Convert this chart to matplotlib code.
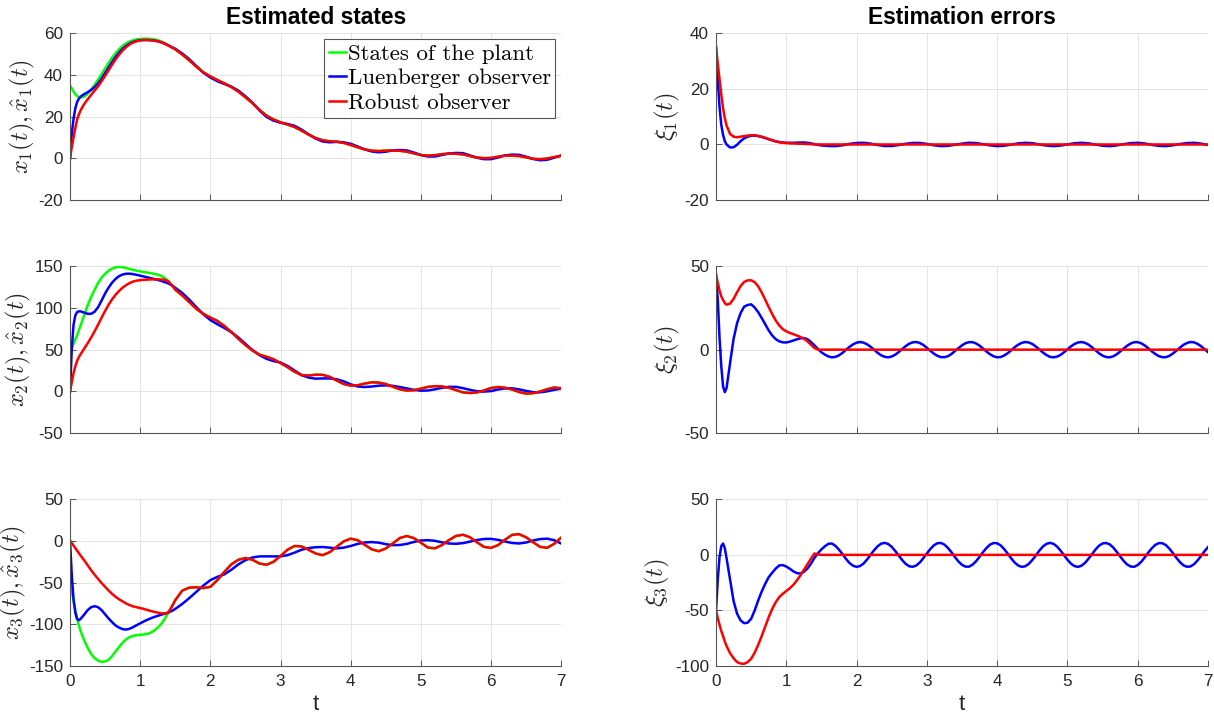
import numpy as np
import matplotlib
matplotlib.use("Agg")
import matplotlib.pyplot as plt

plt.rcParams['font.family'] = ['Liberation Sans', 'DejaVu Sans']
plt.rcParams['mathtext.fontset'] = 'cm'
plt.rcParams['axes.unicode_minus'] = False

# time samples (dense during the transient, coarser afterwards)
t_early = [0, 0.025, 0.05, 0.075, 0.1, 0.125, 0.15, 0.2, 0.25, 0.3, 0.35, 0.4,
           0.45, 0.5, 0.55, 0.6, 0.65, 0.7, 0.75, 0.8, 0.85, 0.9, 0.95, 1.0,
           1.05, 1.1, 1.15, 1.2, 1.25, 1.3, 1.35, 1.4, 1.45, 1.5]
t_late = [1.6, 1.7, 1.8, 1.9, 2.0, 2.1, 2.2, 2.3, 2.4, 2.5, 2.6, 2.7, 2.8, 2.9,
          3.0, 3.1, 3.2, 3.3, 3.4, 3.5, 3.6, 3.7, 3.8, 3.9, 4.0, 4.1, 4.2, 4.3,
          4.4, 4.5, 4.6, 4.7, 4.8, 4.9, 5.0, 5.1, 5.2, 5.3, 5.4, 5.5, 5.6, 5.7,
          5.8, 5.9, 6.0, 6.1, 6.2, 6.3, 6.4, 6.5, 6.6, 6.7, 6.8, 6.9, 7.0]
# finer samples for the oscillating Luenberger errors
t_late_fine = [1.55, 1.6, 1.65, 1.7, 1.75, 1.8, 1.85, 1.9, 1.95, 2.0,
               2.05, 2.1, 2.15, 2.2, 2.25, 2.3, 2.35, 2.4, 2.45, 2.5,
               2.55, 2.6, 2.65, 2.7, 2.75, 2.8, 2.85, 2.9, 2.95, 3.0,
               3.05, 3.1, 3.15, 3.2, 3.25, 3.3, 3.35, 3.4, 3.45, 3.5,
               3.55, 3.6, 3.65, 3.7, 3.75, 3.8, 3.85, 3.9, 3.95, 4.0,
               4.05, 4.1, 4.15, 4.2, 4.25, 4.3, 4.35, 4.4, 4.45, 4.5,
               4.55, 4.6, 4.65, 4.7, 4.75, 4.8, 4.85, 4.9, 4.95, 5.0,
               5.05, 5.1, 5.15, 5.2, 5.25, 5.3, 5.35, 5.4, 5.45, 5.5,
               5.55, 5.6, 5.65, 5.7, 5.75, 5.8, 5.85, 5.9, 5.95, 6.0,
               6.05, 6.1, 6.15, 6.2, 6.25, 6.3, 6.35, 6.4, 6.45, 6.5,
               6.55, 6.6, 6.65, 6.7, 6.75, 6.8, 6.85, 6.9, 6.95, 7.0]
t = t_early + t_late
t_fine = t_early + t_late_fine

# ---- state x1 ----
x1_plant = [35, 33.5, 32, 30.8, 30, 29.4, 29.2, 29.6, 31, 33, 35.3, 37.8, 40.5, 43.2, 45.8, 48.3, 50.5,
            52.4, 54, 55.2, 56.1, 56.7, 57.1, 57.3, 57.4, 57.4, 57.3, 57.1, 56.7, 56.1, 55.3, 54.4, 53.4, 52.3,
            49.8, 47, 44, 41.3, 39.3, 37.6, 36, 34.2, 32, 29.3, 26.5, 23.3, 20.5, 18.7, 17.3, 16.2, 15, 13.3,
            11.4, 9.8, 8.7, 8.2, 8, 7.4, 6.4, 5.3, 4.3, 3.7, 3.5, 3.7, 3.8, 3.6, 3.2, 2.4, 1.6, 1.3, 1.5, 2.0,
            2.3, 2.2, 1.9, 1.1, 0.4, 0.1, 0.2, 0.8, 1.3, 1.3, 1.1, 0.5, -0.2, -0.4, -0.1, 0.6, 1.2]
x1_luen = [0, 12, 19, 24, 27, 28.6, 29.6, 30.8, 31.7, 32.8, 34.2, 36, 38.3, 41, 43.7, 46.3, 48.7,
           50.8, 52.6, 54, 55.1, 55.9, 56.4, 56.7, 56.8, 56.8, 56.7, 56.5, 56.2, 55.7, 55, 54.2, 53.3, 52.6,
           50.3, 47.6, 44.3, 41.1, 38.8, 37.0, 35.7, 34.4, 32.5, 29.8, 26.7, 23.0, 19.9, 18.1, 17.1, 16.5, 15.6, 13.8,
           11.5, 9.5, 8.1, 7.7, 7.9, 7.7, 7.0, 5.7, 4.3, 3.3, 2.9, 3.2, 3.8, 4.0, 3.8, 2.8, 1.6, 0.9, 0.9, 1.6,
           2.3, 2.6, 2.5, 1.4, 0.3, -0.4, -0.4, 0.4, 1.4, 1.8, 1.7, 0.8, -0.3, -0.9, -0.7, 0.3, 1.4]
x1_rob = [0, 5.5, 10, 14.5, 18.5, 21, 23, 26, 28.3, 30.4, 32.5, 34.6, 37, 39.6, 42.3, 45, 47.5,
          49.8, 51.8, 53.4, 54.7, 55.6, 56.2, 56.6, 56.8, 56.8, 56.7, 56.5, 56.2, 55.7, 55.0, 54.2, 53.3, 52.3,
          49.8, 47, 44, 41.3, 39.3, 37.6, 36, 34.2, 32, 29.3, 26.5, 23.3, 20.5, 18.7, 17.3, 16.2, 15, 13.3,
          11.4, 9.8, 8.7, 8.2, 8, 7.4, 6.4, 5.3, 4.3, 3.7, 3.5, 3.7, 3.8, 3.6, 3.2, 2.4, 1.6, 1.3, 1.5, 2.0,
          2.3, 2.2, 1.9, 1.1, 0.4, 0.1, 0.2, 0.8, 1.3, 1.3, 1.1, 0.5, -0.2, -0.4, -0.1, 0.6, 1.2]

# ---- state x2 ----
x2_plant = [46, 52, 57.5, 62.5, 67, 73, 79, 91, 103, 113, 122, 130, 136.5, 141, 144.8, 147.3, 148.8,
            149.3, 149, 148, 146.8, 145.7, 144.8, 144, 143.2, 142.5, 141.8, 141, 140, 138.5, 136, 132.5, 127.5, 122,
            115, 107, 99, 93, 88.5, 84.5, 78.5, 71, 63, 55.5, 49, 44, 41.5, 38.5, 34, 29, 23.5, 19.5,
            19, 20, 19.8, 17.5, 13, 8.8, 6.8, 7.3, 9.3, 10.8, 10.5, 8.8, 5.5, 2.5, 0.9, 1.3, 3.2, 5.3, 6.2, 6,
            4.2, 1.5, -1.2, -2, -1.3, 1, 4, 5.2, 4.4, 2.2, -0.8, -2.8, -2.2, -0.2, 2.5, 4.6, 3.8]
x2_luen = [0, 52, 80, 91, 95, 96, 96, 94.5, 93, 93, 95.5, 101, 109, 117.5, 124.5, 130.5, 135,
           138.3, 140.2, 141.1, 141.2, 140.6, 139.8, 138.8, 137.8, 136.8, 135.8, 134.8, 133.7, 132.5, 131, 129.5, 127.3, 124.3,
           118, 110, 101, 92.5, 85.5, 80.5, 76, 71, 64.5, 57, 49.5, 43.5, 39, 36.3, 34.5, 30.5, 25, 19.5,
           16.5, 15.2, 15.5, 15.5, 14.5, 12, 8.5, 5.8, 5.2, 5.8, 6.8, 7.2, 6.6, 5.2, 3.5, 1.8, 0.8, 1, 2.4, 4.2,
           5.4, 5.4, 3.8, 1.8, 0.2, -0.3, 0.3, 2.2, 3.5, 3.6, 2.4, 0.5, -1, -1.2, 0, 1.8, 3.2]
x2_rob = [0, 11, 22, 30, 36.5, 41, 44.5, 51, 57.5, 64.5, 72, 80, 88.5, 96.5, 104, 110.5, 116,
          120.5, 124.5, 127.5, 130, 131.8, 132.8, 133.4, 133.8, 134.1, 134.3, 134.4, 134.4, 134.2, 133.8, 132, 127.5, 122,
          115, 107, 99, 93, 88.5, 84.5, 78.5, 71, 63, 55.5, 49, 44, 41.5, 38.5, 34, 29, 23.5, 19.5,
          19, 20, 19.8, 17.5, 13, 8.8, 6.8, 7.3, 9.3, 10.8, 10.5, 8.8, 5.5, 2.5, 0.9, 1.3, 3.2, 5.3, 6.2, 6,
          4.2, 1.5, -1.2, -2, -1.3, 1, 4, 5.2, 4.4, 2.2, -0.8, -2.8, -2.2, -0.2, 2.5, 4.6, 3.8]

# ---- state x3 ----
x3_plant = [-50, -60, -72, -83, -93, -101, -108, -119, -128, -135.5, -140.5, -143.5, -145, -144.6, -142.5, -138, -132.5,
            -127, -122, -118, -115.3, -113.8, -113, -112.6, -112.2, -111.5, -110, -107.5, -104, -99.5, -93.5, -86, -79, -71,
            -59.5, -56, -55.5, -56.5, -55, -47, -37, -28, -22.5, -20.5, -22.5, -27, -28.5, -25, -18, -10.5, -6, -6.5,
            -10.5, -15, -17, -13.5, -7, -0.5, 2.8, 1, -4.5, -10, -12.3, -9, -3, 3.5, 6, 3.5, -2, -7.8, -8.8, -5,
            1, 6, 7.5, 4.5, -1.5, -7, -8.3, -5, 1.5, 7.3, 8.2, 4.5, -1.5, -7, -8.2, -3.5, 4]
x3_luen = [0, -42, -70, -86, -93.5, -95, -93.5, -88.5, -83, -79.5, -78.2, -79.5, -83, -88, -93, -97.5, -101.5,
           -104, -105.8, -106.3, -105.3, -103.3, -101, -98.8, -96.6, -94.6, -92.8, -91.2, -89.8, -88.5, -87.2, -85.8, -84, -81.5,
           -75.5, -68.5, -61, -53.5, -47, -43, -40, -34.5, -28, -23, -19.8, -18.5, -18.4, -18.5, -18.4, -17, -14, -10.5,
           -8.5, -7.5, -7.2, -8, -8.8, -8, -6, -3.5, -1.8, -1.3, -2, -3.8, -5, -4.8, -3.5, -1.2, 0.6, 1, 0.2, -1.6,
           -3, -3.4, -2.6, -0.8, 1.2, 2.4, 2.6, 1.4, -0.6, -2.4, -3, -1.8, 0.6, 2.3, 2.8, 1, -3]
x3_rob = [0, -2.5, -5.5, -8.5, -11.5, -14.5, -17.5, -23, -29, -35, -40.5, -45.5, -50.5, -55, -59.5, -63.5, -67,
          -70, -72.5, -75, -77, -78.5, -79.5, -80.5, -81.5, -82.8, -84, -85, -86, -86.8, -87, -86, -79, -71,
          -59.5, -56, -55.5, -56.5, -55, -47, -37, -28, -22.5, -20.5, -22.5, -27, -28.5, -25, -18, -10.5, -6, -6.5,
          -10.5, -15, -17, -13.5, -7, -0.5, 2.8, 1, -4.5, -10, -12.3, -9, -3, 3.5, 6, 3.5, -2, -7.8, -8.8, -5,
          1, 6, 7.5, 4.5, -1.5, -7, -8.3, -5, 1.5, 7.3, 8.2, 4.5, -1.5, -7, -8.2, -3.5, 4]

# ---- estimation errors ----
xi1_luen = [35, 23, 13.5, 7, 3.5, 1.2, 0, -1.1, -1.0, -0.1, 1.2, 2.2, 2.8, 3.1, 3.2, 3.0, 2.7,
            2.3, 1.9, 1.5, 1.1, 0.85, 0.7, 0.6, 0.6, 0.6, 0.65, 0.7, 0.7, 0.6, 0.4, 0.1, -0.15, -0.35,
            -0.55, -0.6, -0.3, 0.2, 0.55, 0.6, 0.3, -0.2, -0.55, -0.55, -0.2, 0.25, 0.55, 0.55, 0.2, -0.3, -0.6, -0.5,
            -0.1, 0.3, 0.6, 0.5, 0.1, -0.35, -0.6, -0.45, -0.05, 0.4, 0.6, 0.45, 0, -0.4, -0.6, -0.4, 0, 0.45, 0.6, 0.4,
            -0.05, -0.45, -0.6, -0.35, 0.1, 0.5, 0.6, 0.35, -0.15, -0.5, -0.6, -0.3, 0.15, 0.5, 0.6, 0.3, -0.2]
xi1_rob = [35, 29, 23.5, 18, 13, 9.5, 6.8, 3.8, 2.8, 2.6, 2.8, 3.0, 3.2, 3.3, 3.3, 3.1, 2.8,
           2.4, 1.9, 1.5, 1.1, 0.8, 0.6, 0.5, 0.4, 0.35, 0.3, 0.25, 0.2, 0.15, 0.1, 0.05, 0, 0,
           0, 0, 0, 0, 0, 0, 0, 0, 0, 0, 0, 0, 0, 0, 0, 0, 0, 0, 0, 0, 0, 0, 0, 0, 0, 0, 0, 0,
           0, 0, 0, 0, 0, 0, 0, 0, 0, 0, 0, 0, 0, 0, 0, 0, 0, 0, 0, 0, 0, 0, 0, 0, 0, 0, 0]
xi2_luen = [45, 30, 7, -10, -22, -25.5, -23, -8, 6.5, 16, 22, 25.8, 26.8, 27.2, 25.3, 22.5, 19,
            15.2, 11.5, 8.5, 6.3, 5, 4.4, 4.3, 4.8, 5.5, 6.2, 6.8, 7, 6.3, 4.6, 2.6, 0.4, -1.6,
            -3.0, -4.1, -4.6, -4.3, -3.4, -1.9, -0.1, 1.7, 3.2, 4.2,
            4.6, 4.2, 3.2, 1.7, -0.1, -1.9, -3.4, -4.3, -4.6, -4.1,
            -3.0, -1.4, 0.4, 2.2, 3.6, 4.4, 4.6, 4.0, 2.8, 1.1,
            -0.7, -2.4, -3.7, -4.5, -4.5, -3.9, -2.6, -0.8, 0.9, 2.6,
            3.9, 4.5, 4.5, 3.7, 2.4, 0.6, -1.2, -2.8, -4.0, -4.6,
            -4.4, -3.5, -2.1, -0.4, 1.5, 3.0, 4.1, 4.6, 4.3, 3.4,
            1.9, 0.1, -1.7, -3.2, -4.3, -4.6, -4.2, -3.2, -1.6, 0.2,
            2.0, 3.4, 4.3, 4.6, 4.1, 3.0, 1.4, -0.4, -2.2, -3.6,
            -4.4, -4.6, -4.0, -2.8, -1.1, 0.7, 2.4, 3.7, 4.5, 4.5,
            3.8, 2.5, 0.9, -1.0, -2.6, -3.9, -4.5, -4.5, -3.7, -2.3,
            -0.6, 1.2, 2.9, 4.0, 4.6, 4.4, 3.5, 2.1, 0.3, -1.5]
xi2_rob = [45, 40, 35.5, 32, 29.8, 28, 27, 27.6, 30.5, 34.5, 38.2, 40.6, 41.6, 41.6, 40.5, 38, 34.3,
           30, 25.5, 21.3, 17.5, 14.5, 12.3, 11, 10, 9.3, 8.5, 7.6, 6.6, 5, 3, 1, 0, 0,
           0, 0, 0, 0, 0, 0, 0, 0, 0, 0, 0, 0, 0, 0, 0, 0, 0, 0, 0, 0, 0, 0, 0, 0, 0, 0, 0, 0,
           0, 0, 0, 0, 0, 0, 0, 0, 0, 0, 0, 0, 0, 0, 0, 0, 0, 0, 0, 0, 0, 0, 0, 0, 0, 0, 0]
xi3_luen = [-50, -22, -2, 8, 10.2, 6, -3, -22, -41.6, -53, -59, -61.5, -61, -57.5, -50, -41, -33,
            -26, -20, -16, -12.3, -9.5, -9.2, -10.5, -12.5, -14.8, -16.4, -16.8, -15.2, -12.3, -8, -2.7, 1.5, 5,
            7.8, 10, 10.2, 8.1, 4.7, 0.6, -3.7, -7.4, -9.8, -10.8,
            -10.0, -7.7, -4.1, 0.1, 4.3, 7.8, 10.1, 10.8, 9.8, 7.2,
            3.5, -0.7, -4.8, -8.2, -10.3, -10.7, -9.5, -6.8, -2.9, 1.3,
            5.4, 8.6, 10.5, 10.7, 9.2, 6.2, 2.3, -2.0, -6.0, -9.0,
            -10.6, -10.6, -8.8, -5.7, -1.7, 2.6, 6.4, 9.3, 10.7, 10.4,
            8.5, 5.2, 1.1, -3.2, -7.0, -9.6, -10.8, -10.2, -8.1, -4.6,
            -0.5, 3.8, 7.5, 9.9, 10.8, 10.0, 7.6, 4.0, -0.2, -4.4,
            -7.9, -10.1, -10.8, -9.7, -7.2, -3.4, 0.8, 4.9, 8.3, 10.3,
            10.7, 9.5, 6.7, 2.8, -1.4, -5.5, -8.7, -10.5, -10.7, -9.1,
            -6.2, -2.2, 2.1, 6.0, 9.0, 10.6, 10.5, 8.8, 5.6, 1.6,
            -2.7, -6.5, -9.4, -10.7, -10.4, -8.4, -5.1, -1.0, 3.3, 7.0]
xi3_rob = [-50, -57, -63, -68.5, -73, -78, -82, -88.5, -93, -96.5, -97.8, -98, -96.5, -93.5, -88, -81, -73,
           -64.5, -56, -48.5, -42.5, -38, -35, -32.5, -30, -27, -23, -18.5, -13.5, -8.5, -3.5, 1.2, 0.5, 0,
           0, 0, 0, 0, 0, 0, 0, 0, 0, 0, 0, 0, 0, 0, 0, 0, 0, 0, 0, 0, 0, 0, 0, 0, 0, 0, 0, 0,
           0, 0, 0, 0, 0, 0, 0, 0, 0, 0, 0, 0, 0, 0, 0, 0, 0, 0, 0, 0, 0, 0, 0, 0, 0, 0, 0]

state_labels = [r'$x_1(t), \hat{x}_1(t)$', r'$x_2(t), \hat{x}_2(t)$', r'$x_3(t), \hat{x}_3(t)$']
error_labels = [r'$\xi_1(t)$', r'$\xi_2(t)$', r'$\xi_3(t)$']
state_ylims = [(-20, 60), (-50, 150), (-150, 50)]
state_yticks = [[-20, 0, 20, 40, 60], [-50, 0, 50, 100, 150], [-150, -100, -50, 0, 50]]
error_ylims = [(-20, 40), (-50, 50), (-100, 50)]
error_yticks = [[-20, 0, 20, 40], [-50, 0, 50], [-100, -50, 0, 50]]
legend_labels = ['States of the plant', 'Luenberger observer', 'Robust observer']

plant = [x1_plant, x2_plant, x3_plant]
luen = [x1_luen, x2_luen, x3_luen]
rob = [x1_rob, x2_rob, x3_rob]
err_luen = [(t, xi1_luen), (t_fine, xi2_luen), (t_fine, xi3_luen)]
err_rob = [xi1_rob, xi2_rob, xi3_rob]

GREEN, BLUE, RED = '#00ff00', '#0000ff', '#ff0000'
LW = 1.8
TXT = '#262626'

fig = plt.figure(figsize=(12.14, 7.2), dpi=100)
bottoms = [0.7222, 0.3986, 0.075]
h = 0.2315


def style(ax, ylim, yticks, last):
    ax.set_xlim(0, 7)
    ax.set_ylim(*ylim)
    ax.set_yticks(yticks)
    ax.set_xticks(range(8))
    ax.grid(True, color='#e4e4e4', linewidth=0.7)
    ax.set_axisbelow(True)
    for s in ['top', 'right']:
        ax.spines[s].set_visible(False)
    for s in ['left', 'bottom']:
        ax.spines[s].set_color('#555555')
        ax.spines[s].set_linewidth(0.8)
    ax.tick_params(direction='in', length=4, width=0.7, color='#555555',
                   labelsize=12.3, labelcolor=TXT)
    ax.tick_params(axis='x', pad=6)
    ax.tick_params(axis='y', pad=5)
    if last:
        ax.set_xlabel('t', fontsize=16, color=TXT, labelpad=3)
    else:
        ax.tick_params(labelbottom=False)


for i in range(3):
    ax = fig.add_axes([0.0577, bottoms[i], 0.4045, h])
    ax.plot(t, plant[i], color=GREEN, lw=LW, label=legend_labels[0])
    ax.plot(t, luen[i], color=BLUE, lw=LW, label=legend_labels[1])
    ax.plot(t, rob[i], color=RED, lw=LW, label=legend_labels[2])
    style(ax, state_ylims[i], state_yticks[i], i == 2)
    ax.set_ylabel(state_labels[i], fontsize=17.5, color=TXT, labelpad=1)
    if i == 0:
        ax.set_title('Estimated states', fontsize=16.4, fontweight='bold', pad=7)
        leg = ax.legend(loc='upper right', prop={'family': 'cmr10', 'size': 16.5},
                        handlelength=0.75, handletextpad=0.08, labelspacing=0.2,
                        borderpad=0.2, borderaxespad=0.25, fancybox=False,
                        framealpha=1)
        leg.get_frame().set_edgecolor('#555555')
        leg.get_frame().set_linewidth(0.8)

    ax = fig.add_axes([0.5898, bottoms[i], 0.4053, h])
    tl, yl = err_luen[i]
    ax.plot(tl, yl, color=BLUE, lw=LW)
    ax.plot(t, err_rob[i], color=RED, lw=LW)
    style(ax, error_ylims[i], error_yticks[i], i == 2)
    ax.set_ylabel(error_labels[i], fontsize=18, color=TXT, labelpad=2)
    if i == 0:
        ax.set_title('Estimation errors', fontsize=16.4, fontweight='bold', pad=7)

fig.savefig('out.png', dpi=100)
